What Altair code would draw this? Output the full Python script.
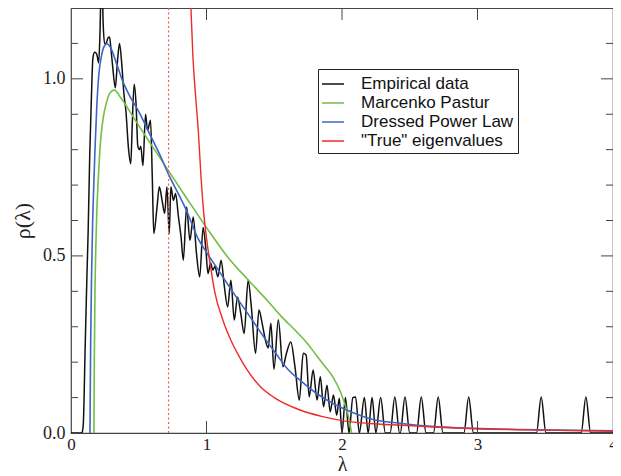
import altair as alt
import pandas as pd

# ---------------- data ----------------
series_names = ["Empirical data", "Marcenko Pastur", "Dressed Power Law", '"True" eigenvalues']
series_colors = ["#111111", "#72bf44", "#3b66c4", "#ee2a2a"]

emp_lam = [0.00, 0.08, 0.09, 0.105, 0.118, 0.126, 0.138, 0.15, 0.162, 0.175, 0.19, 0.204,
           0.214, 0.222, 0.23, 0.238, 0.248, 0.26, 0.272, 0.284, 0.296, 0.308, 0.327, 0.343,
           0.358, 0.375, 0.39, 0.405, 0.425, 0.441, 0.452, 0.466, 0.48, 0.493, 0.505, 0.515,
           0.531, 0.55, 0.565, 0.587, 0.6, 0.611, 0.635, 0.652, 0.672, 0.691, 0.708, 0.725,
           0.737, 0.756, 0.772, 0.793, 0.812, 0.829, 0.853, 0.878, 0.902, 0.926, 0.95, 0.975,
           0.995, 1.011, 1.03, 1.047, 1.062, 1.084, 1.108, 1.132, 1.156, 1.18, 1.205, 1.229,
           1.253, 1.278, 1.307, 1.331, 1.362, 1.387, 1.411, 1.435, 1.455, 1.475, 1.498, 1.53,
           1.564, 1.59, 1.622, 1.653, 1.685, 1.714, 1.735, 1.758, 1.787, 1.816, 1.84, 1.864,
           1.889, 1.913, 1.937, 1.961, 1.98, 2.0, 2.025, 2.052, 2.08, 2.1, 2.128, 2.165,
           2.193, 2.222, 2.25, 2.285, 2.32, 2.355, 2.39, 2.425, 2.43, 2.465, 2.5, 2.55,
           2.585, 2.62, 2.675, 2.71, 2.745, 2.9, 2.935, 2.97, 3.435, 3.47, 3.505, 3.765,
           3.80, 3.835, 4.0]
emp_rho = [0.0, 0.0, 0.02, 0.25, 0.45, 0.56, 0.78, 0.94, 1.06, 1.075, 1.07, 1.045,
           1.13, 1.25, 1.25, 1.15, 1.10, 1.10, 1.115, 1.118, 1.08, 1.033, 0.975, 1.05,
           1.10, 1.04, 0.96, 0.91, 0.80, 0.76, 0.87, 0.985, 0.93, 0.81, 0.80, 0.81,
           0.755, 0.90, 0.855, 0.883, 0.72, 0.563, 0.638, 0.695, 0.657, 0.62, 0.695, 0.563,
           0.695, 0.657, 0.676, 0.61, 0.554, 0.488, 0.638, 0.544, 0.61, 0.507, 0.441, 0.58,
           0.52, 0.45, 0.48, 0.46, 0.47, 0.441, 0.488, 0.413, 0.356, 0.431, 0.319, 0.384,
           0.337, 0.281, 0.431, 0.356, 0.225, 0.347, 0.309, 0.262, 0.24, 0.31, 0.18, 0.32,
           0.187, 0.225, 0.257, 0.187, 0.093, 0.225, 0.22, 0.102, 0.178, 0.093, 0.159, 0.074,
           0.135, 0.06, 0.107, 0.05, 0.098, 0.0, 0.10, 0.0, 0.10, 0.102, 0.0, 0.10,
           0.0, 0.10, 0.0, 0.10, 0.0, 0.0, 0.102, 0.0, 0.0, 0.102, 0.0, 0.0,
           0.102, 0.0, 0.0, 0.102, 0.0, 0.0, 0.102, 0.0, 0.0, 0.102, 0.0, 0.0,
           0.102, 0.0, 0.0]

mp_lam = [0.169, 0.172, 0.177, 0.183, 0.19, 0.199, 0.21, 0.223, 0.24, 0.26, 0.28, 0.30,
          0.32, 0.37, 0.429, 0.50, 0.575, 0.65, 0.72, 0.85, 1.0, 1.15, 1.32, 1.447, 1.55,
          1.665, 1.74, 1.81, 1.87, 1.93, 1.99, 2.03, 2.055, 2.07]
mp_rho = [0.0, 0.2, 0.4, 0.52, 0.62, 0.70, 0.78, 0.845, 0.895, 0.93, 0.955, 0.965,
          0.968, 0.945, 0.911, 0.868, 0.824, 0.781, 0.74, 0.665, 0.58, 0.50, 0.427, 0.375, 0.33,
          0.286, 0.255, 0.22, 0.19, 0.16, 0.115, 0.07, 0.035, 0.0]

dpl_lam = [0.14, 0.145, 0.152, 0.16, 0.168, 0.177, 0.19, 0.205, 0.225, 0.245, 0.265, 0.29,
           0.33, 0.38, 0.429, 0.502, 0.575, 0.65, 0.72, 0.85, 0.938, 1.0, 1.084, 1.2, 1.3,
           1.447, 1.52, 1.6, 1.69, 1.8, 1.93, 2.065, 2.2, 2.44, 2.68, 2.97, 3.3, 3.6, 4.0]
dpl_rho = [0.0, 0.25, 0.45, 0.60, 0.70, 0.80, 0.92, 1.01, 1.065, 1.092, 1.099, 1.09,
           1.05, 0.995, 0.955, 0.906, 0.849, 0.79, 0.73, 0.63, 0.549, 0.51, 0.462, 0.395, 0.34,
           0.258, 0.22, 0.18, 0.149, 0.115, 0.084, 0.06, 0.041, 0.027, 0.018, 0.013, 0.01, 0.008, 0.0065]

true_lam = [0.885, 0.90, 0.92, 0.94, 0.96, 0.98, 1.0, 1.03, 1.06, 1.12, 1.18, 1.25, 1.30,
            1.40, 1.50, 1.69, 1.85, 2.0, 2.2, 2.44, 2.68, 3.0, 3.5, 4.0]
true_rho = [1.2, 1.06, 0.95, 0.85, 0.72, 0.62, 0.55, 0.47, 0.40, 0.32, 0.262, 0.21, 0.178,
            0.13, 0.10, 0.065, 0.047, 0.035, 0.027, 0.022, 0.017, 0.012, 0.008, 0.005]

cutoff_lam = [0.72]

x_tick_labels = [0, 1, 2, 3, 4]
y_tick_labels = [0.0, 0.5, 1.0]
x_inner_ticks = [1, 2, 3]
y_major_ticks = [0.5, 1.0]
y_minor_ticks = [0.1, 0.2, 0.3, 0.4, 0.6, 0.7, 0.8, 0.9, 1.1]

# ---------------- chart ----------------
W, H = 542, 425
FRAME = "#444444"
SERIF = "Liberation Serif"

xs = alt.Scale(domain=[0, 4], nice=False, zero=False)
ys = alt.Scale(domain=[0, 1.2], nice=False, zero=False)

x_axis = alt.Axis(values=x_tick_labels, format="d", ticks=False, domain=False, grid=False,
                  labelFlush=False, labelFont=SERIF, labelFontSize=17, labelColor="#222222",
                  labelPadding=3, title="λ", titleFont=SERIF, titleFontSize=20,
                  titleFontWeight="normal", titleColor="#222222", titlePadding=2)
y_axis = alt.Axis(values=y_tick_labels, format=".1f", ticks=False, domain=False, grid=False,
                  labelFlush=False, labelFont=SERIF, labelFontSize=18, labelColor="#222222",
                  labelPadding=6, title="ρ(λ)", titleFont=SERIF, titleFontSize=22,
                  titleFontWeight="normal", titleColor="#222222", titlePadding=8)

legend = alt.Legend(title=None, orient="none", legendX=247, legendY=61, direction="vertical",
                    symbolType="M-1.1,0H1.1", symbolSize=400, symbolStrokeWidth=1.5,
                    labelFont="Liberation Sans", labelFontSize=17, labelColor="#111111",
                    labelOffset=17, labelLimit=400, rowPadding=0, padding=4,
                    strokeColor="#222222", fillColor="white", cornerRadius=0)
color = alt.Color("series:N", scale=alt.Scale(domain=series_names, range=series_colors),
                  legend=legend)

X = lambda f: alt.X(f, scale=xs, axis=x_axis)
Y = lambda f: alt.Y(f, scale=ys, axis=y_axis)


def line_layer(lam, rho, name, width):
    df = pd.DataFrame({"lam": lam, "rho": rho, "series": name})
    return alt.Chart(df).mark_line(clip=True, strokeWidth=width, interpolate="monotone").encode(
        x=X("lam:Q"), y=Y("rho:Q"), color=color)


def hticks(vals, x0, x1):
    df = pd.DataFrame({"v": vals})
    return alt.Chart(df).mark_rule(color=FRAME, strokeWidth=1).encode(
        y=Y("v:Q"), x=alt.value(x0), x2=alt.value(x1))


def vticks(vals, y0, y1):
    df = pd.DataFrame({"v": vals})
    return alt.Chart(df).mark_rule(color=FRAME, strokeWidth=1).encode(
        x=X("v:Q"), y=alt.value(y0), y2=alt.value(y1))


cutoff = alt.Chart(pd.DataFrame({"lam": cutoff_lam})).mark_rule(
    color="#f05a5a", strokeDash=[2, 2.5], strokeWidth=1.2).encode(x=X("lam:Q"))

chart = alt.layer(
    line_layer(emp_lam, emp_rho, series_names[0], 1.5),
    line_layer(mp_lam, mp_rho, series_names[1], 1.6),
    line_layer(dpl_lam, dpl_rho, series_names[2], 1.6),
    cutoff,
    line_layer(true_lam, true_rho, series_names[3], 1.4),
    hticks(y_major_ticks, 0, 12),
    hticks(y_minor_ticks, 0, 7),
    hticks(y_major_ticks, W - 12, W),
    hticks(y_minor_ticks, W - 7, W),
    vticks(x_inner_ticks, H, H - 12),
    vticks(x_inner_ticks, 0, 12),
).properties(
    width=W, height=H,
    padding={"left": 63, "top": 0, "right": 0, "bottom": 43},
    autosize=alt.AutoSizeParams(type="none"),
    background="white",
).configure_view(stroke=FRAME, strokeWidth=1.2)

chart.save("out.html", embed_options={"renderer": "svg", "actions": False})
